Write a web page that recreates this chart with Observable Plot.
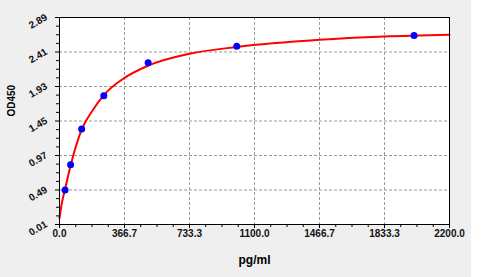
<!DOCTYPE html>
<html><head><meta charset="utf-8">
<script src="https://cdn.jsdelivr.net/npm/d3@7"></script>
<script src="https://cdn.jsdelivr.net/npm/@observablehq/plot@0.6"></script>
<style>
html,body{margin:0;padding:0;background:#fff;}
#chart svg{display:block;}
</style></head><body><div id="chart"></div>
<script>
// Standard points (pg/ml, OD450)
const stdConc = [31.25, 62.5, 125, 250, 500, 1000, 2000];
const stdOD = [0.49, 0.84, 1.34, 1.80, 2.26, 2.49, 2.64];
// Fitted curve
const fitConc = [0, 15, 31.25, 62.5, 125, 187.5, 250, 366.7, 500, 733.3, 1000, 1466.7, 1833.3, 2200];
const fitOD = [0.10, 0.33, 0.50, 0.83, 1.33, 1.60, 1.81, 2.05, 2.22, 2.385, 2.48, 2.58, 2.625, 2.65];
// Axis ticks
const xTicks = [0, 366.7, 733.3, 1100, 1466.7, 1833.3, 2200];
const xTickLabels = ["0.0", "366.7", "733.3", "1100.0", "1466.7", "1833.3", "2200.0"];
const yTicks = [0.01, 0.49, 0.97, 1.45, 1.93, 2.41, 2.89];
const yTickLabels = ["0.01", "0.49", "0.97", "1.45", "1.93", "2.41", "2.89"];

const std = stdConc.map((c, i) => ({c, od: stdOD[i]}));
const fit = fitConc.map((c, i) => ({c, od: fitOD[i]}));
function minors(t) {
  const out = [];
  for (let i = 0; i < t.length - 1; i++) for (let k = 1; k < 4; k++) out.push(t[i] + (t[i+1] - t[i]) * k / 4);
  return out;
}
const xMinor = minors(xTicks), yMinor = minors(yTicks);
const font = "'Liberation Sans', Arial, sans-serif";

const chart = Plot.plot({
  width: 498, height: 277,
  marginLeft: 59, marginRight: 49, marginTop: 17, marginBottom: 53,
  style: {fontFamily: font, background: "linear-gradient(to right, #efefef 0px, #efefef 471px, #ffffff 471px)"},
  x: {domain: [0, 2200], label: null},
  y: {domain: [0.01, 2.89], label: null},
  marks: [
    Plot.frame({fill: "white", stroke: null}),
    Plot.gridX(xTicks.slice(1, -1), {stroke: "#9a9a9a", strokeOpacity: 1, strokeDasharray: "3,2"}),
    Plot.gridY(yTicks.slice(1, -1), {stroke: "#9a9a9a", strokeOpacity: 1, strokeDasharray: "3,2"}),
    Plot.line(fit, {x: "c", y: "od", stroke: "#ff0000", strokeWidth: 2, curve: "monotone-x"}),
    Plot.dot(std, {x: "c", y: "od", r: 3.5, fill: "#0000ff", stroke: null}),
    Plot.frame({stroke: "black", strokeWidth: 1}),
    Plot.axisX(xTicks, {tickSize: 4, tickFormat: () => "", stroke: "black", label: null}),
    Plot.axisX(xMinor, {tickSize: 3, tickFormat: () => "", stroke: "black", label: null}),
    Plot.axisY(yTicks, {tickSize: 4, tickFormat: () => "", stroke: "black", label: null}),
    Plot.axisY(yMinor, {tickSize: 3, tickFormat: () => "", stroke: "black", label: null}),
    Plot.text(xTicks, {x: d => d, frameAnchor: "bottom", dy: 12, text: (d, i) => xTickLabels[i], fontSize: 10, fontWeight: "bold", fill: "#111"}),
    Plot.text(yTicks, {y: d => d, frameAnchor: "left", dx: -13, dy: -1, rotate: -30, textAnchor: "end", text: (d, i) => yTickLabels[i], fontSize: 10, fontWeight: "bold", fill: "#111"}),
    Plot.text(["pg/ml"], {frameAnchor: "bottom", dy: 39, text: d => d, fontSize: 12, fontWeight: "bold", fill: "#000"}),
    Plot.text(["OD450"], {frameAnchor: "left", dx: -47.5, dy: -4.5, rotate: -90, text: d => d, fontSize: 10, fontWeight: "bold", fill: "#000"})
  ]
});
document.getElementById("chart").appendChild(chart);
</script></body></html>
